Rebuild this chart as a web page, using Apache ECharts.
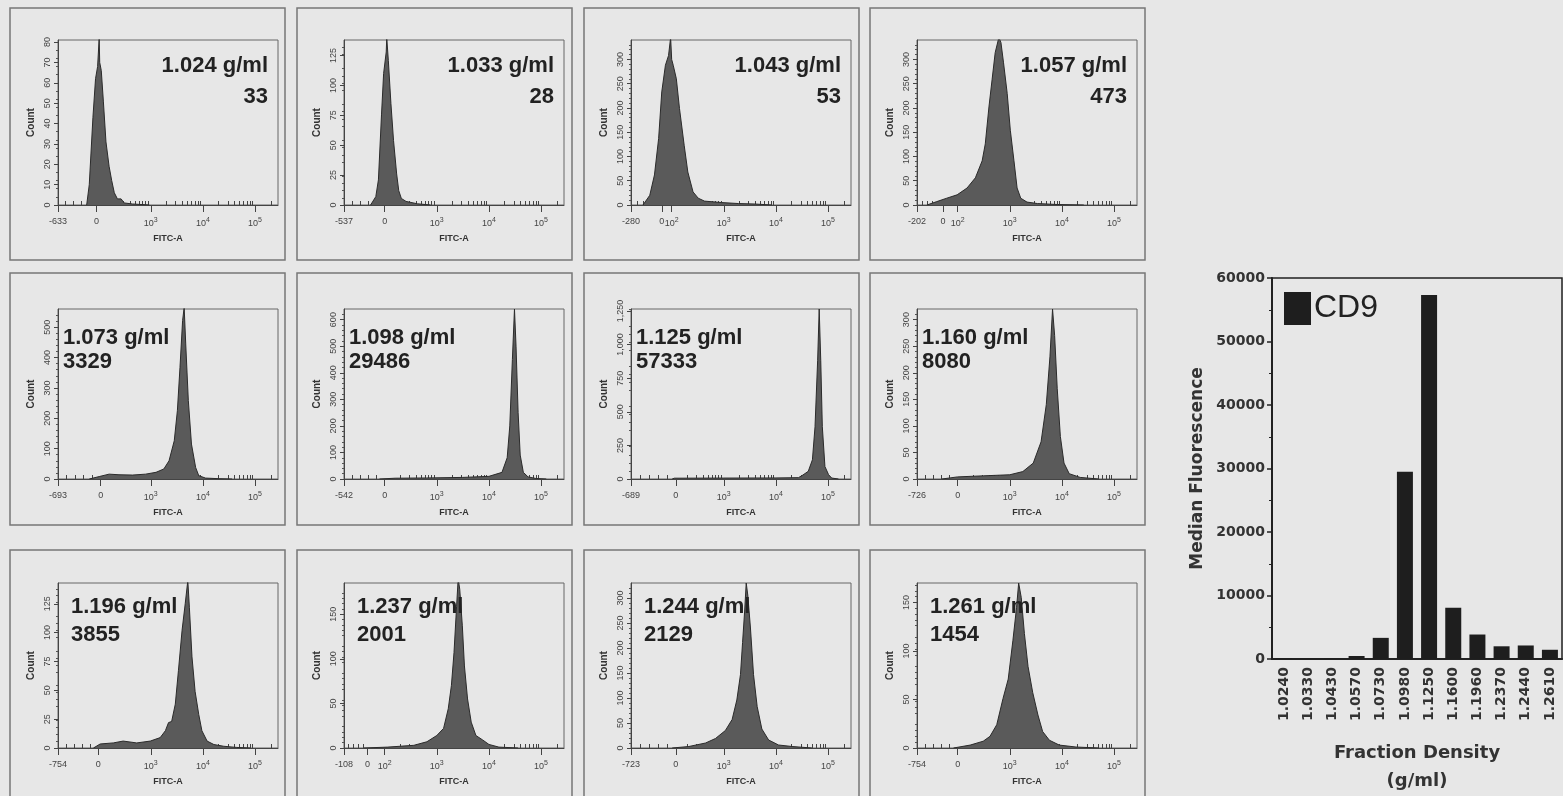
<!DOCTYPE html>
<html>
<head>
<meta charset="utf-8">
<title>CD9 median fluorescence by fraction density</title>
<script src="https://cdn.jsdelivr.net/npm/echarts@6.0.0/dist/echarts.min.js"></script>
<style>
  html, body { margin: 0; padding: 0; background: #e7e7e7; }
  #main { width: 1563px; height: 796px; }
</style>
</head>
<body>
<div id="main"></div>
<script>
// bar chart: fraction density and median FITC of each fraction
const densities = ['1.0240', '1.0330', '1.0430', '1.0570', '1.0730', '1.0980', '1.1250', '1.1600', '1.1960', '1.2370', '1.2440', '1.2610']
const medians = [33, 28, 53, 473, 3329, 29486, 57333, 8080, 3855, 2001, 2129, 1454]
const panelLabels = ['1.024 g/ml', '1.033 g/ml', '1.043 g/ml', '1.057 g/ml', '1.073 g/ml', '1.098 g/ml',
  '1.125 g/ml', '1.160 g/ml', '1.196 g/ml', '1.237 g/ml', '1.244 g/ml', '1.261 g/ml']

// histogram x axis is biexponential, in display decades (10^3 sits at 3)
const xLowLabels = ['-633', '-537', '-280', '-202', '-693', '-542', '-689', '-726', '-754', '-108', '-723', '-754']
const zeroPositions = [1.96, 2.0, 1.81, 1.72, 2.04, 2.0, 2.08, 2.0, 1.99, 1.67, 2.08, 2.0]
const showHundred = [false, false, true, true, false, false, false, false, false, true, false, false]
const countMax = [81, 138, 340, 340, 560, 640, 1265, 320, 143, 185, 330, 170]
const countStep = [10, 25, 50, 50, 100, 100, 250, 50, 25, 50, 50, 50]

// histograms: [display position, count]
const hist1024 = [[1.77, 0], [1.82, 10], [1.89, 43], [1.94, 62], [1.98, 68], [2.01, 82], [2.02, 70], [2.05, 66], [2.09, 51], [2.14, 31], [2.20, 19], [2.25, 12], [2.30, 6], [2.36, 3], [2.43, 3], [2.49, 1], [2.65, 0.5], [2.97, 0]]
const hist1033 = [[1.73, 0], [1.83, 7], [1.88, 21], [1.94, 76], [1.98, 110], [2.03, 128], [2.04, 140], [2.07, 121], [2.12, 85], [2.17, 54], [2.23, 26], [2.27, 12], [2.32, 5.5], [2.41, 3], [2.63, 1], [2.88, 0]]
const hist1043 = [[1.45, 0], [1.58, 20], [1.67, 62], [1.75, 137], [1.81, 233], [1.88, 288], [1.94, 308], [1.98, 345], [2.00, 300], [2.03, 288], [2.09, 260], [2.15, 199], [2.24, 123], [2.31, 68], [2.41, 27], [2.51, 14], [2.63, 8], [2.96, 5], [3.28, 3], [3.60, 2], [3.92, 0]]
const hist1057 = [[1.41, 0], [1.60, 7], [1.79, 14], [1.99, 21], [2.18, 35], [2.34, 56], [2.47, 91], [2.53, 126], [2.60, 202], [2.66, 258], [2.72, 314], [2.79, 345], [2.83, 335], [2.88, 293], [2.95, 230], [3.01, 154], [3.08, 91], [3.14, 35], [3.21, 14], [3.33, 6], [3.53, 3], [3.91, 1], [4.42, 0]]
const hist1073 = [[1.82, 0], [2.01, 8], [2.20, 16], [2.39, 14], [2.65, 13], [2.90, 16], [3.10, 22], [3.25, 33], [3.35, 60], [3.45, 126], [3.51, 225], [3.56, 368], [3.61, 522], [3.64, 565], [3.67, 445], [3.72, 258], [3.78, 115], [3.86, 38], [3.92, 11], [4.05, 3], [4.31, 1], [4.56, 0]]
const hist1098 = [[1.9, 0], [2.2, 3], [2.8, 4], [3.5, 6], [4.0, 10], [4.25, 25], [4.35, 80], [4.40, 200], [4.45, 450], [4.49, 640], [4.52, 500], [4.56, 250], [4.60, 90], [4.66, 25], [4.75, 8], [4.9, 2], [5.1, 0]]
const hist1125 = [[2.01, 0], [2.05, 6], [3.0, 7], [4.0, 8], [4.43, 10], [4.50, 25], [4.62, 57], [4.70, 143], [4.75, 389], [4.80, 880], [4.83, 1265], [4.86, 880], [4.89, 389], [4.94, 93], [5.01, 32], [5.07, 7], [5.20, 0]]
const hist1160 = [[1.7, 0], [2.0, 4], [2.5, 6], [3.0, 8], [3.25, 14], [3.45, 30], [3.6, 70], [3.7, 140], [3.77, 230], [3.82, 320], [3.86, 270], [3.91, 170], [3.97, 80], [4.04, 30], [4.14, 10], [4.35, 3], [4.7, 0]]
const hist1196 = [[1.90, 0], [2.03, 3.5], [2.28, 4.4], [2.47, 6], [2.73, 4.4], [2.99, 6], [3.18, 9], [3.28, 15], [3.34, 22], [3.40, 23], [3.47, 38], [3.53, 67], [3.60, 102], [3.66, 125], [3.71, 145], [3.74, 122], [3.79, 79], [3.85, 49], [3.92, 29], [3.98, 15], [4.08, 6], [4.21, 3], [4.40, 1.5], [4.65, 0.5], [4.91, 0]]
const hist1237 = [[1.6, 0], [2.06, 1], [2.56, 3], [2.81, 7], [3.0, 14], [3.13, 22], [3.22, 44], [3.28, 70], [3.33, 107], [3.38, 159], [3.41, 190], [3.44, 178], [3.49, 137], [3.53, 92], [3.59, 55], [3.66, 29], [3.75, 14], [3.88, 9], [4.0, 4], [4.19, 1], [4.56, 0]]
const hist1244 = [[2.01, 0], [2.33, 3], [2.65, 10], [2.84, 19], [3.03, 35], [3.16, 57], [3.25, 96], [3.32, 147], [3.36, 211], [3.40, 274], [3.43, 330], [3.46, 306], [3.51, 242], [3.57, 147], [3.64, 83], [3.73, 38], [3.86, 16], [4.05, 6], [4.31, 3], [4.69, 0]]
const hist1261 = [[1.92, 0], [2.24, 3], [2.49, 7], [2.62, 12], [2.75, 24], [2.87, 51], [2.97, 71], [3.06, 111], [3.13, 145], [3.17, 170], [3.22, 155], [3.28, 118], [3.35, 84], [3.44, 57], [3.54, 34], [3.63, 17], [3.76, 8], [3.95, 3], [4.27, 1], [4.71, 0]]
const histograms = [hist1024, hist1033, hist1043, hist1057, hist1073, hist1098,
  hist1125, hist1160, hist1196, hist1237, hist1244, hist1261]

const X_MIN = 1.22
const X_MAX = 5.44

// layout of the 3x4 panel block
const colLeft = [58, 344, 631, 917]
const rowTop = [40, 309, 583]
const rowHeight = [165, 170, 165]
const plotWidth = 220
const frameLeft = [10, 297, 584, 870]
const frameTop = [8, 273, 550]
const frameHeight = [252, 252, 260]

const histFont = 'Liberation Sans, Arial, sans-serif'
const barFont = 'DejaVu Sans, Verdana, sans-serif'

function majorTicks(i) {
  const vals = [X_MIN, zeroPositions[i]]
  const labs = [xLowLabels[i], '0']
  if (showHundred[i]) {
    vals.push(2)
    labs.push('10{s|2}')
  }
  vals.push(3, 4, 5)
  labs.push('10{s|3}', '10{s|4}', '10{s|5}')
  return { vals, labs }
}

function minorTicks(i) {
  const z = zeroPositions[i]
  const out = []
  for (let k = 1; k <= 4; k++) out.push(X_MIN + k * (z - X_MIN) / 5)
  for (let d = 2; d <= 5; d++) {
    for (let m = 2; m <= 9; m++) {
      const u = d + Math.log10(m)
      if (u > z + 0.12 && u < X_MAX) out.push(u)
    }
  }
  return out
}

function countTicks(i) {
  const out = []
  for (let v = 0; v <= countMax[i] + 1e-9; v += countStep[i]) out.push(v)
  return out
}

const grids = []
const xAxes = []
const yAxes = []
const series = []
const graphics = []

histograms.forEach((data, i) => {
  const row = Math.floor(i / 4)
  const col = i % 4
  const left = colLeft[col]
  const top = rowTop[row]
  grids.push({
    left: left, top: top, width: plotWidth, height: rowHeight[row],
    show: true, borderColor: '#666', borderWidth: 1
  })
  const major = majorTicks(i)
  xAxes.push({
    type: 'value', gridIndex: i, min: X_MIN, max: X_MAX,
    axisLine: { show: true, onZero: false, lineStyle: { color: '#444', width: 1 } },
    axisTick: { show: true, length: 7, customValues: major.vals, lineStyle: { color: '#444' } },
    axisLabel: {
      customValues: major.vals,
      margin: 12, fontSize: 9, color: '#444', fontFamily: histFont,
      rich: { s: { fontSize: 7, color: '#444', fontFamily: histFont, padding: [0, 0, 7, 0] } },
      formatter: v => {
        let best = 0
        major.vals.forEach((t, k) => { if (Math.abs(t - v) < Math.abs(major.vals[best] - v)) best = k })
        return major.labs[best]
      }
    },
    splitLine: { show: false },
    name: 'FITC-A', nameLocation: 'middle', nameGap: 29,
    nameTextStyle: { fontSize: 9, fontWeight: 'bold', color: '#333', fontFamily: histFont }
  })
  xAxes.push({
    type: 'value', gridIndex: i, min: X_MIN, max: X_MAX,
    axisLine: { show: false },
    axisTick: { show: true, length: 4, customValues: minorTicks(i), lineStyle: { color: '#444' } },
    axisLabel: { show: false },
    splitLine: { show: false }
  })
  const yt = countTicks(i)
  yAxes.push({
    type: 'value', gridIndex: i, min: 0, max: countMax[i],
    axisLine: { show: true, lineStyle: { color: '#444', width: 1 } },
    axisTick: { show: true, length: 4, customValues: yt, lineStyle: { color: '#444' } },
    minorTick: { show: true, splitNumber: 5, length: 2, lineStyle: { color: '#555' } },
    axisLabel: { customValues: yt, rotate: 90, fontSize: 9, color: '#444', margin: 6, fontFamily: histFont },
    splitLine: { show: false },
    name: 'Count', nameLocation: 'middle', nameGap: 22,
    nameTextStyle: { fontSize: 10, fontWeight: 'bold', color: '#333', fontFamily: histFont }
  })
  series.push({
    type: 'line', name: panelLabels[i], xAxisIndex: 2 * i, yAxisIndex: i,
    data: data, symbol: 'none', silent: true, clip: true,
    lineStyle: { color: '#2b2b2b', width: 1 },
    areaStyle: { color: '#5a5a5a', opacity: 1 }
  })

  // caption and median in each panel
  let tx, align, y1, y2
  if (row === 0) {
    tx = left + plotWidth - 10; align = 'right'; y1 = top + 26; y2 = top + 57
  } else if (row === 1) {
    tx = left + 5; align = 'left'; y1 = top + 29; y2 = top + 53
  } else {
    tx = left + 13; align = 'left'; y1 = top + 24; y2 = top + 52
  }
  const textStyle = { font: 'bold 22px ' + histFont, fill: '#222', textAlign: align, textVerticalAlign: 'middle' }
  graphics.push({ type: 'text', z: 100, style: Object.assign({ text: panelLabels[i], x: tx, y: y1 }, textStyle) })
  graphics.push({ type: 'text', z: 100, style: Object.assign({ text: String(medians[i]), x: tx, y: y2 }, textStyle) })
  graphics.push({
    type: 'rect', z: -1, silent: true,
    shape: { x: frameLeft[col], y: frameTop[row], width: 275, height: frameHeight[row] },
    style: { fill: 'none', stroke: '#777', lineWidth: 1.5 }
  })
})

// bar chart of the medians
grids.push({ left: 1272, top: 278, width: 290, height: 381, show: true, borderColor: '#222', borderWidth: 1.5 })
xAxes.push({
  type: 'category', gridIndex: 12, data: densities,
  axisLine: { lineStyle: { color: '#222', width: 2 } },
  axisTick: { alignWithLabel: true, length: 5, lineStyle: { color: '#222', width: 1.5 } },
  axisLabel: { rotate: 90, fontSize: 14, fontWeight: 'bold', color: '#333', margin: 8, fontFamily: barFont },
  name: 'Fraction Density\n(g/ml)', nameLocation: 'middle', nameGap: 80,
  nameTextStyle: { fontSize: 18, fontWeight: 'bold', color: '#333', lineHeight: 28, fontFamily: barFont }
})
yAxes.push({
  type: 'value', gridIndex: 12, min: 0, max: 60000, interval: 10000,
  axisLine: { show: true, lineStyle: { color: '#222', width: 2 } },
  axisTick: { show: true, length: 5, lineStyle: { color: '#222', width: 1.5 } },
  minorTick: { show: true, splitNumber: 2, length: 3, lineStyle: { color: '#222' } },
  axisLabel: { fontSize: 14, fontWeight: 'bold', color: '#333', margin: 7, fontFamily: barFont, formatter: v => String(v) },
  splitLine: { show: false },
  name: 'Median Fluorescence', nameLocation: 'middle', nameGap: 66,
  nameTextStyle: { fontSize: 17, fontWeight: 'bold', color: '#333', fontFamily: barFont }
})
series.push({
  type: 'bar', name: 'CD9', xAxisIndex: 24, yAxisIndex: 12,
  data: medians, barWidth: 16,
  itemStyle: { color: '#1e1e1e' }
})

const chart = echarts.init(document.getElementById('main'))
chart.setOption({
  backgroundColor: '#e7e7e7',
  animation: false,
  legend: {
    data: ['CD9'], left: 1279, top: 287, icon: 'rect',
    itemWidth: 27, itemHeight: 33, itemGap: 5,
    textStyle: { fontSize: 32, color: '#222', fontFamily: histFont, padding: [0, 0, 0, -2] }
  },
  grid: grids,
  xAxis: xAxes,
  yAxis: yAxes,
  series: series,
  graphic: graphics
})
</script>
</body>
</html>
